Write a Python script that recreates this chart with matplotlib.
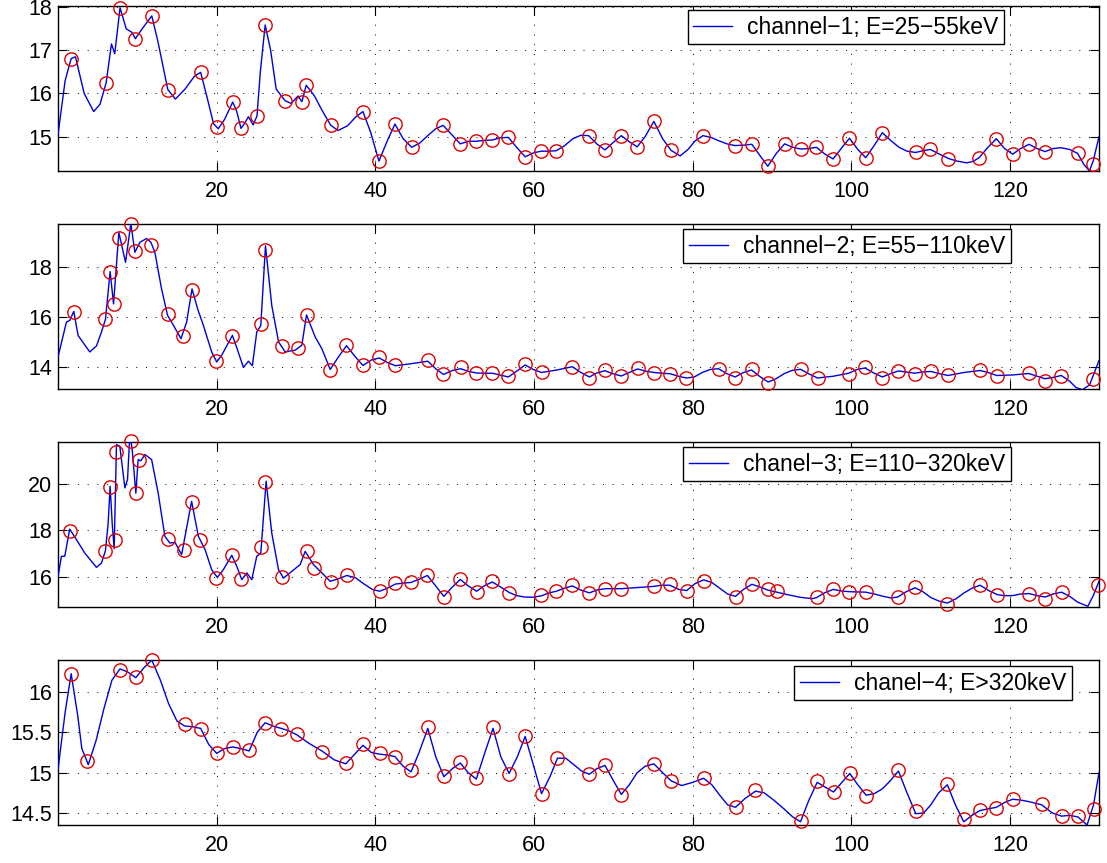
import numpy as np
import matplotlib
matplotlib.use("Agg")
import matplotlib.pyplot as plt

plt.rcParams['font.family'] = ['Liberation Sans', 'DejaVu Sans']

# ---------------- data ----------------
labels = ["channel\u22121; E=25\u221255keV", "channel\u22122; E=55\u2212110keV",
          "chanel\u22123; E=110\u2212320keV", "chanel\u22124; E>320keV"]

# channel 1 : sampled points (circles)
x1_pts = [1.66, 6.07, 7.82, 9.75, 11.82, 13.84, 17.98, 20.00, 22.02, 23.06, 25.08, 26.11, 28.63, 30.74,
          31.28, 34.38, 38.43, 40.45, 42.47, 44.58, 48.54, 50.70, 52.72, 54.74, 56.76, 58.88, 60.90, 62.77,
          66.88, 68.94, 70.99, 73.00, 75.10, 77.26, 81.28, 85.30, 87.45, 89.46, 91.57, 93.62, 95.59, 97.69,
          99.75, 101.80, 103.90, 108.10, 109.94, 112.23, 116.10, 118.26, 120.32, 122.38, 124.40, 128.50, 130.50]
y1_pts = [16.81, 16.25, 17.99, 17.27, 17.80, 16.09, 16.49, 15.21, 15.80, 15.19, 15.48, 17.59, 15.83, 15.81,
          16.19, 15.26, 15.58, 14.43, 15.29, 14.75, 15.26, 14.83, 14.89, 14.92, 14.98, 14.53, 14.66, 14.67,
          15.02, 14.69, 15.02, 14.76, 15.35, 14.68, 15.02, 14.79, 14.82, 14.31, 14.83, 14.71, 14.75, 14.48,
          14.96, 14.51, 15.09, 14.63, 14.70, 14.49, 14.51, 14.95, 14.59, 14.82, 14.65, 14.61, 14.37]
# channel 1 : continuous curve
x1_line = [0.0, 0.9, 1.66, 2.2, 3.3, 4.5, 5.3, 6.07, 6.74, 7.15, 7.82, 8.6, 9.3, 9.75, 10.6, 11.82, 12.6,
           13.84, 14.8, 16.0, 17.2, 17.98, 18.8, 19.6, 20.2, 21.0, 22.02, 22.5, 23.06, 23.5, 24.0, 24.6,
           25.08, 25.5, 26.11, 26.8, 27.5, 28.63, 29.4, 30.25, 30.74, 31.28, 32.3, 33.3, 34.38, 35.3, 36.5,
           37.5, 38.43, 39.4, 40.45, 41.5, 42.47, 43.5, 44.58, 45.6, 46.6, 47.6, 48.54, 49.6, 50.70, 51.7,
           52.72, 53.7, 54.74, 55.7, 56.76, 57.8, 58.88, 59.9, 60.90, 61.8, 62.77, 63.8, 64.9, 65.9, 66.88,
           67.9, 68.94, 69.9, 70.99, 72.0, 73.00, 74.0, 75.10, 76.2, 77.26, 78.4, 79.4, 80.3, 81.28, 82.3,
           83.3, 84.3, 85.30, 86.4, 87.45, 88.5, 89.46, 90.5, 91.57, 92.6, 93.62, 94.6, 95.59, 96.6, 97.69,
           98.7, 99.75, 100.8, 101.80, 102.9, 103.90, 105.0, 106.0, 107.0, 108.10, 109.0, 109.94, 111.0,
           112.23, 113.3, 114.5, 115.3, 116.10, 117.2, 118.26, 119.3, 120.32, 121.3, 122.38, 123.4, 124.40,
           125.4, 126.4, 127.5, 128.50, 129.3, 130.0, 130.50, 131.2]
y1_line = [15.05, 16.3, 16.81, 16.85, 16.0, 15.58, 15.75, 16.25, 17.15, 16.92, 17.99, 17.5, 17.42, 17.27,
           17.5, 17.80, 17.2, 16.09, 15.87, 16.1, 16.4, 16.49, 15.9, 15.3, 15.18, 15.4, 15.80, 15.6, 15.19,
           15.3, 15.46, 15.27, 15.48, 16.5, 17.59, 17.0, 16.1, 15.83, 15.77, 15.94, 15.81, 16.19, 15.95, 15.6,
           15.26, 15.14, 15.25, 15.45, 15.58, 15.1, 14.43, 14.9, 15.29, 14.95, 14.75, 14.85, 15.02, 15.18,
           15.26, 15.05, 14.83, 14.89, 14.89, 14.91, 14.92, 14.97, 14.98, 14.75, 14.53, 14.62, 14.66, 14.66,
           14.67, 14.78, 14.95, 15.03, 15.02, 14.83, 14.69, 14.85, 15.02, 14.88, 14.76, 15.0, 15.35, 14.95,
           14.68, 14.55, 14.7, 14.9, 15.02, 14.98, 14.9, 14.83, 14.79, 14.8, 14.82, 14.55, 14.31, 14.6, 14.83,
           14.75, 14.71, 14.72, 14.75, 14.6, 14.48, 14.72, 14.96, 14.7, 14.51, 14.8, 15.09, 14.9, 14.75,
           14.66, 14.63, 14.67, 14.70, 14.6, 14.49, 14.43, 14.39, 14.42, 14.51, 14.75, 14.95, 14.72, 14.59,
           14.72, 14.82, 14.72, 14.65, 14.72, 14.74, 14.7, 14.61, 14.35, 14.2, 14.45, 15.0]

# channel 2
x2_pts = [1.99, 5.98, 6.57, 7.04, 7.63, 9.18, 9.65, 11.71, 13.81, 15.79, 16.89, 19.96, 21.98, 25.56, 26.10,
          28.20, 30.19, 31.32, 34.31, 36.36, 38.43, 40.49, 42.52, 46.61, 48.58, 50.74, 52.72, 54.74, 56.76,
          58.88, 60.94, 64.82, 66.97, 68.94, 70.99, 73.05, 75.10, 77.12, 79.18, 83.25, 85.35, 87.41, 89.51,
          93.58, 95.73, 99.66, 101.70, 103.90, 105.90, 108.00, 110.03, 112.18, 116.20, 118.30, 122.33,
          124.39, 126.45, 130.50]
y2_pts = [16.21, 15.92, 17.80, 16.52, 19.19, 19.72, 18.65, 18.90, 16.13, 15.25, 17.10, 14.25, 15.26, 15.74,
          18.70, 14.85, 14.78, 16.08, 13.89, 14.90, 14.09, 14.41, 14.11, 14.29, 13.72, 14.01, 13.77, 13.79,
          13.64, 14.13, 13.81, 14.01, 13.59, 13.88, 13.65, 13.96, 13.79, 13.75, 13.57, 13.93, 13.59, 13.92,
          13.39, 13.93, 13.59, 13.75, 14.00, 13.57, 13.87, 13.75, 13.85, 13.68, 13.88, 13.64, 13.76, 13.47,
          13.65, 13.55]
x2_line = [0.0, 1.06, 1.48, 1.99, 2.53, 2.95, 4.0, 4.85, 5.48, 5.98, 6.57, 7.0, 7.67, 8.51, 9.18, 9.69,
           10.32, 11.16, 11.71, 12.21, 13.05, 13.81, 14.32, 15.5, 16.21, 16.89, 17.6, 18.32, 19.37, 20.0,
           20.63, 21.98, 22.5, 23.37, 24.0, 24.5, 25.05, 25.56, 26.15, 26.94, 27.8, 28.63, 29.9, 30.73,
           31.32, 32.41, 33.25, 34.31, 35.3, 36.36, 37.4, 38.43, 39.5, 40.49, 41.5, 42.52, 44.5, 46.61, 47.6,
           48.58, 49.7, 50.74, 51.7, 52.72, 53.7, 54.74, 55.7, 56.76, 57.8, 58.88, 59.9, 60.94, 62.9, 64.82,
           65.9, 66.97, 67.9, 68.94, 69.9, 70.99, 72.0, 73.05, 74.1, 75.10, 76.1, 77.12, 78.2, 79.18, 80.2,
           81.2, 82.2, 83.25, 84.3, 85.35, 86.4, 87.41, 88.4, 89.51, 90.5, 91.5, 92.5, 93.58, 94.6, 95.73,
           97.7, 99.66, 100.7, 101.70, 102.8, 103.90, 104.9, 105.90, 106.9, 108.00, 109.0, 110.03, 111.1,
           112.18, 114.2, 116.20, 117.2, 118.30, 120.3, 122.33, 123.4, 124.39, 125.4, 126.45, 127.5, 128.3,
           129.1, 130.0, 130.50, 131.2]
y2_line = [14.42, 15.81, 15.88, 16.24, 15.28, 15.09, 14.62, 14.86, 15.42, 15.92, 17.83, 16.54, 19.39, 18.2,
           19.75, 18.6, 19.0, 19.15, 19.0, 18.6, 17.14, 16.08, 15.81, 15.15, 15.81, 17.14, 16.34, 15.68,
           14.62, 14.22, 14.49, 15.28, 14.82, 14.0, 14.25, 14.07, 15.42, 15.68, 18.86, 16.48, 15.02, 14.62,
           14.69, 14.89, 16.1, 15.22, 14.75, 13.92, 14.4, 14.87, 14.45, 14.08, 14.3, 14.38, 14.2, 14.07,
           14.15, 14.25, 13.95, 13.72, 13.88, 13.95, 13.85, 13.78, 13.77, 13.77, 13.7, 13.62, 13.85, 14.1,
           13.92, 13.8, 13.9, 14.03, 13.8, 13.62, 13.78, 13.87, 13.75, 13.66, 13.8, 13.94, 13.85, 13.8, 13.77,
           13.75, 13.65, 13.58, 13.62, 13.8, 13.92, 13.95, 13.75, 13.62, 13.8, 13.9, 13.65, 13.42, 13.55,
           13.75, 13.88, 13.93, 13.75, 13.58, 13.65, 13.77, 13.92, 13.98, 13.78, 13.62, 13.75, 13.86, 13.82,
           13.77, 13.82, 13.84, 13.75, 13.68, 13.8, 13.88, 13.8, 13.68, 13.7, 13.76, 13.65, 13.55, 13.6,
           13.68, 13.45, 13.2, 13.11, 13.3, 13.7, 14.28]

# channel 3
x3_pts = [1.48, 5.98, 6.57, 7.21, 7.37, 9.18, 9.81, 10.24, 13.81, 15.83, 16.84, 17.85, 19.96, 21.98, 23.03,
          25.56, 26.14, 28.21, 31.32, 32.29, 34.38, 36.40, 40.54, 42.52, 44.49, 46.56, 48.63, 50.70, 52.76,
          54.74, 56.85, 60.90, 62.80, 64.82, 66.97, 68.94, 70.99, 75.10, 77.12, 79.22, 81.37, 85.39, 87.45,
          89.46, 90.60, 95.63, 97.69, 99.75, 101.80, 105.83, 108.02, 112.09, 116.20, 118.40, 122.40, 124.43,
          126.49, 131.06]
y3_pts = [17.99, 17.12, 19.86, 17.57, 21.38, 21.84, 19.61, 21.05, 17.63, 17.14, 19.21, 17.57, 15.94, 16.92,
          15.90, 17.28, 20.10, 15.99, 17.12, 16.37, 15.76, 16.07, 15.37, 15.71, 15.77, 16.07, 15.12, 15.90,
          15.34, 15.81, 15.29, 15.19, 15.37, 15.63, 15.29, 15.48, 15.48, 15.61, 15.67, 15.37, 15.83, 15.11,
          15.68, 15.48, 15.37, 15.11, 15.48, 15.32, 15.32, 15.11, 15.55, 14.83, 15.63, 15.19, 15.27, 15.05,
          15.32, 15.65]
x3_line = [0.0, 0.43, 0.85, 1.48, 2.32, 3.37, 4.85, 5.48, 5.98, 6.32, 6.57, 6.83, 7.08, 7.37, 7.79, 8.43,
           8.76, 9.0, 9.18, 9.35, 9.81, 10.1, 10.44, 10.95, 11.8, 12.63, 13.47, 14.1, 14.74, 15.58, 16.84,
           17.69, 18.53, 19.37, 20.08, 20.84, 21.9, 22.53, 23.16, 23.8, 24.42, 25.05, 25.56, 26.23, 26.94,
           27.79, 28.42, 29.47, 30.52, 31.15, 32.2, 33.26, 34.3, 35.3, 36.4, 37.5, 38.5, 39.6, 40.54, 41.5,
           42.52, 43.5, 44.49, 45.6, 46.56, 47.6, 48.63, 49.7, 50.70, 51.7, 52.76, 53.7, 54.74, 55.8, 56.85,
           57.8, 58.8, 59.8, 60.90, 61.9, 62.80, 63.8, 64.82, 65.9, 66.97, 67.9, 68.94, 70.99, 73.0, 75.10,
           76.1, 77.12, 78.2, 79.22, 80.3, 81.37, 82.4, 83.4, 84.4, 85.39, 86.4, 87.45, 88.5, 89.46, 90.60,
           92.0, 93.5, 95.1, 95.63, 96.6, 97.69, 98.7, 99.75, 101.80, 102.9, 104.0, 105.0, 105.83, 106.9,
           108.02, 109.0, 110.0, 111.0, 112.09, 113.2, 114.2, 115.2, 116.20, 117.3, 118.40, 119.3, 120.3,
           121.3, 122.40, 123.4, 124.43, 125.4, 126.49, 127.5, 128.5, 129.8, 130.5, 131.2]
y3_line = [16.0, 16.88, 16.88, 18.05, 17.6, 17.02, 16.4, 16.59, 17.12, 18.3, 19.9, 18.3, 17.2, 21.7, 21.63,
           19.83, 20.19, 21.77, 21.9, 21.48, 19.6, 21.05, 21.0, 21.27, 21.05, 19.6, 17.74, 17.45, 17.48,
           16.95, 19.25, 17.74, 17.17, 16.3, 15.97, 16.3, 16.92, 16.45, 15.87, 16.16, 15.87, 16.88, 17.02,
           20.12, 17.88, 16.3, 15.94, 16.23, 16.52, 17.09, 16.52, 16.16, 15.8, 15.9, 16.05, 15.95, 15.7,
           15.45, 15.37, 15.5, 15.68, 15.72, 15.75, 15.9, 16.05, 15.6, 15.15, 15.55, 15.88, 15.6, 15.37, 15.6,
           15.77, 15.55, 15.32, 15.18, 15.12, 15.11, 15.17, 15.3, 15.37, 15.5, 15.6, 15.42, 15.3, 15.42,
           15.48, 15.48, 15.53, 15.58, 15.63, 15.63, 15.45, 15.4, 15.7, 15.86, 15.75, 15.5, 15.25, 15.15,
           15.45, 15.67, 15.55, 15.42, 15.33, 15.22, 15.11, 15.05, 15.1, 15.3, 15.45, 15.38, 15.35, 15.33,
           15.25, 15.15, 15.08, 15.12, 15.35, 15.52, 15.35, 15.1, 14.95, 14.86, 15.05, 15.3, 15.5, 15.63,
           15.4, 15.22, 15.18, 15.18, 15.25, 15.27, 15.18, 15.12, 15.25, 15.33, 15.15, 14.9, 14.72, 15.2, 15.8]

# channel 4
x4_pts = [1.66, 3.64, 7.82, 9.80, 11.82, 15.96, 17.98, 20.00, 22.02, 24.09, 26.11, 28.13, 30.11, 33.26,
          36.27, 38.43, 40.54, 42.47, 44.49, 46.61, 48.63, 50.70, 52.72, 54.83, 56.85, 58.88, 60.94, 62.95,
          66.97, 68.94, 70.99, 75.10, 77.26, 81.37, 85.39, 87.90, 93.58, 95.68, 97.74, 99.79, 101.85, 105.92,
          108.11, 112.09, 114.15, 116.20, 118.26, 120.32, 123.98, 126.49, 128.55, 130.51]
y4_pts = [16.23, 15.15, 16.28, 16.19, 16.40, 15.60, 15.54, 15.24, 15.32, 15.28, 15.62, 15.54, 15.48, 15.26,
          15.12, 15.36, 15.24, 15.20, 15.03, 15.57, 14.96, 15.13, 14.93, 15.57, 14.98, 15.46, 14.74, 15.18,
          14.98, 15.09, 14.72, 15.11, 14.90, 14.94, 14.57, 14.78, 14.40, 14.90, 14.76, 14.99, 14.71, 15.03,
          14.53, 14.86, 14.42, 14.54, 14.56, 14.67, 14.61, 14.46, 14.46, 14.55]
x4_line = [0.0, 0.9, 1.66, 2.5, 3.0, 3.82, 4.8, 5.8, 6.8, 7.82, 8.8, 9.80, 10.8, 11.82, 12.9, 13.93, 15.0,
           15.96, 17.0, 17.98, 19.0, 20.00, 21.0, 22.02, 23.0, 24.09, 25.1, 26.11, 27.1, 28.13, 29.1, 30.11,
           31.7, 33.26, 34.8, 36.27, 37.3, 38.43, 39.5, 40.54, 41.5, 42.47, 43.5, 44.49, 45.5, 46.61, 47.6,
           48.63, 49.7, 50.70, 51.7, 52.72, 53.8, 54.83, 55.8, 56.85, 57.9, 58.88, 59.9, 60.94, 62.0, 62.95,
           64.0, 65.0, 66.0, 66.97, 67.9, 68.94, 70.0, 70.99, 72.0, 73.0, 74.0, 75.10, 76.2, 77.26, 78.6,
           80.0, 81.37, 82.4, 83.4, 84.4, 85.39, 86.6, 87.90, 89.0, 90.2, 91.5, 92.6, 93.58, 94.6, 95.68,
           96.7, 97.74, 98.8, 99.79, 100.8, 101.85, 102.9, 103.9, 104.9, 105.92, 107.0, 108.11, 109.1, 110.0,
           111.0, 112.09, 113.1, 114.15, 115.2, 116.20, 117.2, 118.26, 119.3, 120.32, 121.3, 122.4, 123.98,
           125.3, 126.49, 127.5, 128.55, 129.7, 130.51, 131.2]
y4_line = [15.04, 15.75, 16.23, 15.7, 15.3, 15.10, 15.4, 15.8, 16.15, 16.29, 16.25, 16.18, 16.3, 16.40,
           16.15, 15.86, 15.64, 15.58, 15.57, 15.55, 15.35, 15.24, 15.3, 15.32, 15.3, 15.27, 15.5, 15.62,
           15.58, 15.55, 15.52, 15.47, 15.36, 15.27, 15.16, 15.11, 15.22, 15.34, 15.25, 15.23, 15.22, 15.2,
           15.08, 15.01, 15.25, 15.55, 15.2, 14.95, 15.05, 15.12, 15.0, 14.92, 15.25, 15.55, 15.2, 14.99,
           15.2, 15.45, 15.1, 14.74, 14.95, 15.18, 15.18, 15.1, 15.02, 14.98, 15.05, 15.09, 14.9, 14.73, 14.85,
           15.0, 15.08, 15.11, 15.0, 14.9, 14.84, 14.88, 14.93, 14.85, 14.72, 14.6, 14.57, 14.68, 14.77,
           14.75, 14.66, 14.55, 14.45, 14.39, 14.65, 14.88, 14.82, 14.76, 14.88, 14.99, 14.85, 14.72, 14.74,
           14.8, 14.9, 15.02, 14.75, 14.49, 14.5, 14.6, 14.75, 14.85, 14.6, 14.39, 14.47, 14.53, 14.55, 14.57,
           14.63, 14.67, 14.66, 14.64, 14.6, 14.5, 14.46, 14.47, 14.45, 14.35, 14.6, 15.0]

ylims = [(14.2, 18.03), (13.14, 19.73), (14.69, 21.81), (14.35, 16.40)]
yticks = [[15, 16, 17, 18], [14, 16, 18], [16, 18, 20], [14.5, 15, 15.5, 16]]
xticks = [20, 40, 60, 80, 100, 120]
xlim = (0.0, 131.2)

series = [(x1_line, y1_line, x1_pts, y1_pts), (x2_line, y2_line, x2_pts, y2_pts),
          (x3_line, y3_line, x3_pts, y3_pts), (x4_line, y4_line, x4_pts, y4_pts)]

# ---------------- layout ----------------
W, H = 1107, 863
fig = plt.figure(figsize=(W / 100, H / 100), dpi=100)
left_px, right_px = 58, 1099
tops_px = [6, 224, 442, 660]
h_px = 165
legend_anchor = [(0.909, 0.976), (0.915, 0.970), (0.915, 0.970), (0.974, 0.964)]

for i, (xl, yl, xp, yp) in enumerate(series):
    ax = fig.add_axes([left_px / W, 1 - (tops_px[i] + h_px) / H, (right_px - left_px) / W, h_px / H])
    ax.plot(xl, yl, color='#0000dd', lw=1.0, label=labels[i], zorder=3)
    ax.plot(xp, yp, linestyle='none', marker='o', ms=9.6, mfc='none', mec='#dd0000', mew=1.0, zorder=4,
            clip_on=False)
    ax.set_xlim(*xlim)
    ax.set_ylim(*ylims[i])
    ax.set_xticks(xticks)
    ax.set_yticks(yticks[i])
    ax.set_yticklabels([('%g' % v) for v in yticks[i]])
    ax.tick_params(direction='in', length=6.5, width=0.8, top=True, right=True, labelsize=15.5, colors='black')
    ax.tick_params(axis='x', pad=7)
    ax.tick_params(axis='y', pad=4)
    ax.grid(True, color='black', linestyle=(0, (1, 9)), linewidth=0.7)
    for s in ax.spines.values():
        s.set_linewidth(1.0)
    leg = ax.legend(loc='upper right', bbox_to_anchor=legend_anchor[i], borderaxespad=0, fontsize=16.5,
                    fancybox=False, framealpha=1, edgecolor='black', handlelength=1.7, handletextpad=0.65,
                    borderpad=0.25)
    leg.get_frame().set_linewidth(1.0)
    leg.set_zorder(10)

fig.savefig('out.png', dpi=100)
